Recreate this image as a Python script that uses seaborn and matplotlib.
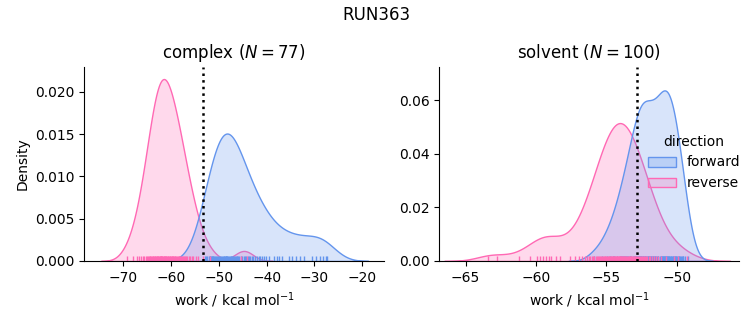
import matplotlib
matplotlib.use("Agg")
import pandas as pd
import matplotlib.pyplot as plt
import seaborn as sns

run_name = "RUN363"
phases = ["complex", "solvent"]
n_works = [77, 100]
directions = ["forward", "reverse"]
colors = ["cornflowerblue", "hotpink"]
free_energy = [-53.3, -52.8]   # dotted line per phase

complex_forward = [
    -52.9, -52.6, -52.4, -52.1, -51.9, -51.8, -51.6, -51.5, -51.4, -51.3, -51.2,
    -51.0, -50.8, -50.6, -50.4, -50.2, -50.0, -49.7, -49.5, -49.3, -49.1, -49.0,
    -48.9, -48.8, -48.6, -48.5, -48.4, -48.3, -48.2, -48.0, -47.8, -47.6, -47.5,
    -47.4, -47.2, -47.1, -47.0, -46.8, -46.6, -46.4, -46.3, -46.1, -45.9, -45.7,
    -45.4, -45.1, -44.8, -44.6, -44.3, -44.0, -43.7, -43.4, -43.1, -42.9,
    -42.5, -42.1, -41.7, -41.3, -40.9, -40.5, -40.1,
    -39.6, -38.5, -37.9, -37.4,
    -36.8, -35.3, -34.6, -33.9,
    -33.0, -32.1, -30.5,
    -29.7, -28.9, -28.2, -27.6, -27.3,
]
complex_reverse = [
    -69.2, -67.9, -67.2, -66.7, -66.3, -65.9, -65.6, -65.3, -65.1, -64.9, -64.7,
    -64.5, -64.3, -64.1, -64.0, -63.8, -63.7, -63.6, -63.4, -63.3, -63.1, -63.0,
    -62.9, -62.8, -62.7, -62.5, -62.4, -62.3, -62.2, -62.1, -62.0, -61.9, -61.8,
    -61.7, -61.5, -61.4, -61.3, -61.2,
    -61.1, -61.0, -60.8, -60.7, -60.6, -60.4, -60.3, -60.2, -60.0, -59.9, -59.8,
    -59.6, -59.5, -59.4, -59.2, -59.1, -58.9, -58.8, -58.6, -58.4, -58.3, -58.1,
    -57.9, -57.7, -57.5, -57.3, -57.1, -56.9, -56.6, -56.3, -56.0, -55.7, -55.3,
    -54.8, -54.3, -53.4, -51.8,
    -45.3, -44.2,
]
solvent_forward = [
    -55.9, -55.3,
    -54.95, -54.75, -54.55,
    -54.45, -54.25, -54.02,
    -53.95, -53.88, -53.8, -53.72, -53.65, -53.58, -53.52,
    -53.47, -53.35, -53.28, -53.22, -53.09, -53.03,
    -52.97, -52.92, -52.89, -52.86, -52.81, -52.76, -52.74, -52.71, -52.65, -52.63,
    -52.6, -52.55, -52.51,
    -52.47, -52.42, -52.37, -52.32, -52.27, -52.22, -52.17, -52.12, -52.07, -52.02,
    -51.98, -51.93, -51.89, -51.84, -51.79, -51.75, -51.7, -51.65, -51.61, -51.56, -51.52,
    -51.48, -51.43, -51.34, -51.29, -51.2, -51.11, -51.08,
    -51.06, -51.02,
    -50.98, -50.95, -50.93, -50.89, -50.84, -50.82, -50.79, -50.75, -50.72, -50.7,
    -50.65, -50.61, -50.56, -50.52,
    -50.48, -50.43, -50.39, -50.34, -50.29, -50.25, -50.2, -50.15, -50.11, -50.06, -50.02,
    -49.97, -49.92, -49.86, -49.8, -49.75, -49.69, -49.63, -49.57, -49.52,
    -49.4, -49.2,
]
solvent_reverse = [
    -63.4, -62.8, -61.2, -60.4, -59.9, -59.7, -59.5, -59.3, -59.1, -58.9, -58.6,
    -58.30, -57.55, -57.19, -56.92, -56.72, -56.54, -56.40, -56.26, -56.15, -56.04,
    -55.94, -55.84, -55.75, -55.67, -55.59, -55.52, -55.44, -55.37, -55.31, -55.25,
    -55.18, -55.12, -55.06, -55.00, -54.95, -54.89, -54.84, -54.79, -54.74, -54.69,
    -54.64, -54.59, -54.54, -54.49, -54.44, -54.40, -54.35, -54.31, -54.26, -54.22,
    -54.17, -54.13, -54.09, -54.04, -54.00, -53.96, -53.92, -53.87, -53.83, -53.79,
    -53.75, -53.70, -53.66,
    -53.57, -53.52, -53.47, -53.42, -53.37, -53.31, -53.26, -53.21, -53.15, -53.10,
    -53.04, -52.99, -52.93, -52.87, -52.81, -52.75, -52.69, -52.62, -52.56, -52.49,
    -52.41, -52.34, -52.26, -52.17, -52.08, -51.99, -51.89, -51.77, -51.64, -51.49,
    -51.32, -51.10, -50.78, -50.20, -49.9, -49.3,
]

frames = []
for phase, fwd, rev in [("complex", complex_forward, complex_reverse),
                        ("solvent", solvent_forward, solvent_reverse)]:
    frames.append(pd.DataFrame({"phase": phase, "direction": "forward", "work": fwd}))
    frames.append(pd.DataFrame({"phase": phase, "direction": "reverse", "work": rev}))
df = pd.concat(frames, ignore_index=True)

g = sns.displot(
    data=df, x="work", hue="direction", col="phase", kind="kde",
    fill=True, rug=True, palette=colors, hue_order=directions, col_order=phases,
    facet_kws=dict(sharex=False, sharey=False), height=3, aspect=1.2,
)

xlims = [(-78.2, -15.46), (-66.88, -45.57)]
ylims = [(0, 0.02296), (0, 0.0725)]
for ax, phase, n, dg, xl, yl in zip(g.axes.flat, phases, n_works, free_energy, xlims, ylims):
    ax.axvline(dg, color="black", linestyle=":", linewidth=1.8)
    ax.set_title(f"{phase} ($N = {n}$)")
    ax.set_xlim(*xl)
    ax.set_ylim(*yl)

g.set_axis_labels("work / kcal mol$^{-1}$", "Density")
g.figure.suptitle(run_name)
g.figure.set_size_inches(7.53, 3.25)
g.figure.subplots_adjust(left=0.1116, right=0.9814, bottom=0.197, top=0.795, wspace=0.184)
g.figure.savefig("out.png", dpi=100)
